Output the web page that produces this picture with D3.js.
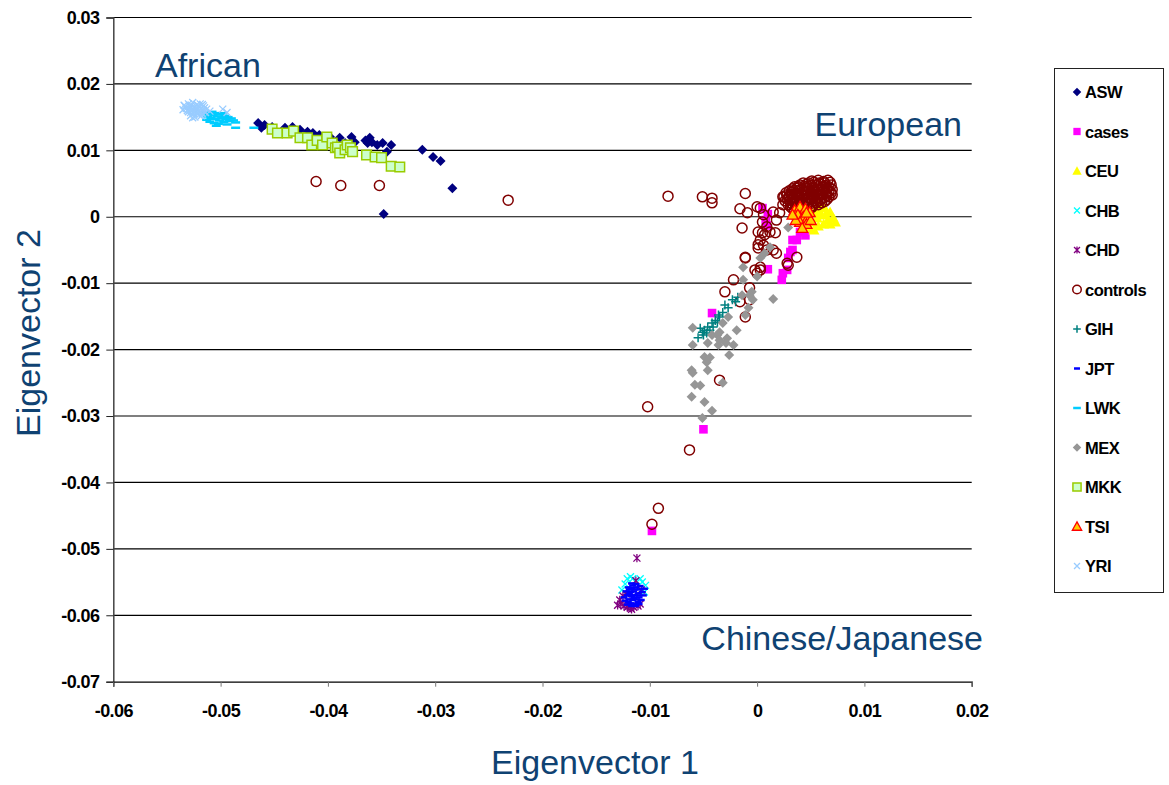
<!DOCTYPE html>
<html>
<head>
<meta charset="utf-8">
<script src="https://cdn.jsdelivr.net/npm/d3@7"></script>
<style>
  body { margin: 0; background: #fff; }
  svg { display: block; font-family: "Liberation Sans", Arial, sans-serif; }
</style>
</head>
<body>
<svg id="chart" width="1169" height="785"></svg>
<script>
// ---- axis ticks ----
const xTicks = [-0.06, -0.05, -0.04, -0.03, -0.02, -0.01, 0, 0.01, 0.02];
const xTickLabels = ["-0.06", "-0.05", "-0.04", "-0.03", "-0.02", "-0.01", "0", "0.01", "0.02"];
const yTicks = [0.03, 0.02, 0.01, 0, -0.01, -0.02, -0.03, -0.04, -0.05, -0.06, -0.07];
const yTickLabels = ["0.03", "0.02", "0.01", "0", "-0.01", "-0.02", "-0.03", "-0.04", "-0.05", "-0.06", "-0.07"];

// ---- series: [eigenvector 1, eigenvector 2] ----
const ASW = [[-0.0465,0.0141],[-0.0459,0.0138],[-0.0452,0.0135],[-0.0462,0.0134],[-0.0440,0.0134],[-0.0433,0.0135],
  [-0.0426,0.0131],[-0.0419,0.0128],[-0.0414,0.0126],[-0.0408,0.0123],[-0.0403,0.0115],[-0.0398,0.0120],[-0.0389,0.0119],
  [-0.0384,0.0111],[-0.0378,0.0120],[-0.0375,0.0112],[-0.0365,0.0115],[-0.0363,0.0111],[-0.0361,0.0119],[-0.0359,0.0112],
  [-0.0354,0.0108],[-0.0349,0.0111],[-0.0345,0.0098],[-0.0341,0.0108],[-0.0312,0.0101],[-0.0302,0.0090],[-0.0295,0.0084],
  [-0.0284,0.0043],[-0.0348,0.0004]];

const cases = [[0.0005,0.0013],[0.0010,0.0004],[0.0009,-0.0013],[0.0008,-0.0005],[0.0040,-0.0023],[0.0045,-0.0028],
  [0.0037,-0.0035],[0.0033,-0.0035],[0.0033,-0.0050],[0.0031,-0.0053],[0.0029,-0.0062],[0.0028,-0.0080],[0.0024,-0.0085],
  [0.0023,-0.0095],[0.0010,-0.0079],[-0.0042,-0.0145],[-0.0050,-0.0320],[-0.0098,-0.0473]];

const CEU = [[0.0054,0.0010],[0.0058,0.0018],[0.0063,0.0013],[0.0068,0.0007],[0.0071,-0.0002],[0.0066,-0.0005],
  [0.0060,0.0003],[0.0056,-0.0002],[0.0051,-0.0008],[0.0057,-0.0014],[0.0062,-0.0011],[0.0068,-0.0011],[0.0053,-0.0020],
  [0.0058,0.0007],[0.0064,0.0003],[0.0073,-0.0008],[0.0049,-0.0017]];

const CHB = [[-0.0121,-0.0545],[-0.0118,-0.0542],[-0.0113,-0.0548],[-0.0107,-0.0550],[-0.0104,-0.0555],[-0.0105,-0.0565],
  [-0.0126,-0.0562],[-0.0123,-0.0553],[-0.0116,-0.0545],[-0.0109,-0.0545]];

const CHD = [[-0.0127,-0.0583],[-0.0124,-0.0586],[-0.0121,-0.0588],[-0.0118,-0.0589],[-0.0115,-0.0588],[-0.0111,-0.0586],
  [-0.0128,-0.0577],[-0.0125,-0.0571],[-0.0113,-0.0548],[-0.0108,-0.0562],[-0.0112,-0.0514],[-0.0122,-0.0568],
  [-0.0120,-0.0586],[-0.0117,-0.0591],[-0.0130,-0.0585],[-0.0109,-0.0583]];

const controls = [
  // along the African axis
  [-0.0411,0.0053],[-0.0388,0.0047],[-0.0352,0.0047],[-0.0232,0.0025],
  // between the clusters
  [-0.0083,0.0031],[-0.0051,0.0030],[-0.0042,0.0028],[-0.0042,0.0021],[-0.0016,0.0012],[-0.0011,0.0035],
  [0.0003,0.0013],[0.0000,0.0015],[-0.0009,0.0006],[-0.0014,-0.0017],[0.0006,0.0003],[0.0005,-0.0008],[0.0009,-0.0015],
  [0.0015,0.0007],[0.0021,0.0006],[0.0018,-0.0005],[0.0012,-0.0023],[0.0001,-0.0023],[0.0003,-0.0035],[0.0006,-0.0043],
  [0.0009,-0.0050],[0.0001,-0.0047],[0.0015,-0.0050],[0.0018,-0.0055],[0.0007,-0.0027],[0.0024,0.0018],[0.0038,0.0045],
  [0.0024,0.0030],[0.0030,0.0030],[0.0037,-0.0061],[0.0003,-0.0076],[-0.0002,-0.0080],[0.0029,-0.0073],[-0.0011,-0.0061],
  [0.0005,-0.0024],[0.0001,-0.0042],[-0.0011,-0.0062],[0.0003,-0.0080],[0.0000,-0.0085],[-0.0022,-0.0095],
  [-0.0030,-0.0113],[-0.0007,-0.0107],[-0.0016,-0.0128],[-0.0007,-0.0125],[-0.0011,-0.0151],[-0.0035,-0.0246],
  [-0.0102,-0.0286],[0.0017,-0.0024],[0.0028,-0.0070],[-0.0063,-0.0351],[-0.0092,-0.0439],[-0.0098,-0.0463],
  // European cluster
  [0.0051,0.0054],[0.0057,0.0055],[0.0062,0.0053],[0.0066,0.0055],
  [0.0043,0.0051],[0.0048,0.0051],[0.0053,0.0052],[0.0058,0.0051],[0.0063,0.0051],[0.0068,0.0052],
  [0.0040,0.0048],[0.0046,0.0049],[0.0050,0.0047],[0.0055,0.0048],[0.0059,0.0049],[0.0064,0.0047],[0.0069,0.0048],
  [0.0035,0.0045],[0.0039,0.0045],[0.0044,0.0046],[0.0048,0.0045],[0.0053,0.0044],[0.0057,0.0045],[0.0062,0.0046],[0.0067,0.0045],
  [0.0033,0.0042],[0.0037,0.0043],[0.0042,0.0041],[0.0046,0.0042],[0.0051,0.0043],[0.0056,0.0041],[0.0060,0.0042],[0.0065,0.0043],[0.0070,0.0041],
  [0.0030,0.0039],[0.0034,0.0039],[0.0039,0.0040],[0.0044,0.0039],[0.0048,0.0038],[0.0053,0.0039],[0.0057,0.0040],[0.0062,0.0039],[0.0067,0.0038],
  [0.0027,0.0036],[0.0032,0.0037],[0.0036,0.0035],[0.0041,0.0036],[0.0046,0.0037],[0.0050,0.0035],[0.0055,0.0036],[0.0059,0.0037],[0.0064,0.0035],[0.0069,0.0036],
  [0.0028,0.0033],[0.0032,0.0033],[0.0037,0.0034],[0.0042,0.0033],[0.0046,0.0032],[0.0051,0.0033],[0.0056,0.0034],[0.0060,0.0033],[0.0065,0.0032],[0.0070,0.0033],
  [0.0025,0.0030],[0.0030,0.0031],[0.0034,0.0029],[0.0039,0.0030],[0.0044,0.0031],[0.0048,0.0029],[0.0053,0.0030],[0.0058,0.0031],[0.0062,0.0029],[0.0067,0.0030],
  [0.0028,0.0027],[0.0033,0.0027],[0.0037,0.0028],[0.0042,0.0027],[0.0047,0.0026],[0.0051,0.0027],[0.0056,0.0028],[0.0060,0.0027],[0.0065,0.0026],
  [0.0026,0.0024],[0.0031,0.0025],[0.0035,0.0023],[0.0040,0.0024],[0.0045,0.0025],[0.0049,0.0023],[0.0054,0.0024],[0.0058,0.0025],[0.0063,0.0023],
  [0.0031,0.0021],[0.0036,0.0021],[0.0040,0.0022],[0.0045,0.0021],[0.0050,0.0020],[0.0055,0.0021],[0.0060,0.0021],
  [0.0029,0.0018],[0.0033,0.0019],[0.0038,0.0017],[0.0043,0.0018],[0.0047,0.0019],[0.0052,0.0017],[0.0057,0.0018],
  [0.0031,0.0015],[0.0036,0.0015],[0.0041,0.0016],[0.0046,0.0015],[0.0051,0.0014],
  [0.0033,0.0012],[0.0038,0.0013],[0.0044,0.0011],[0.0049,0.0012],
  [0.0035,0.0009],[0.0040,0.0009],[0.0046,0.0008],
  [0.0037,0.0006],[0.0043,0.0007],[0.0040,0.0003]
];

const GIH = [[-0.0018,-0.0121],[-0.0023,-0.0125],[-0.0027,-0.0137],[-0.0032,-0.0144],[-0.0035,-0.0151],[-0.0039,-0.0156],
  [-0.0042,-0.0160],[-0.0046,-0.0166],[-0.0049,-0.0171],[-0.0051,-0.0174],[-0.0053,-0.0168],[-0.0041,-0.0166],
  [-0.0037,-0.0159],[-0.0047,-0.0175],[-0.0050,-0.0178],[-0.0044,-0.0171],[-0.0055,-0.0182],[-0.0030,-0.0133],
  [-0.0020,-0.0128],[-0.0036,-0.0148]];

const JPT = [[-0.0117,-0.0552],[-0.0113,-0.0553],[-0.0120,-0.0558],[-0.0117,-0.0559],[-0.0113,-0.0558],[-0.0109,-0.0561],
  [-0.0122,-0.0564],[-0.0118,-0.0565],[-0.0115,-0.0564],[-0.0111,-0.0567],[-0.0107,-0.0565],[-0.0121,-0.0570],
  [-0.0117,-0.0571],[-0.0114,-0.0570],[-0.0110,-0.0573],[-0.0119,-0.0576],[-0.0116,-0.0577],[-0.0112,-0.0576],
  [-0.0108,-0.0577],[-0.0118,-0.0582],[-0.0115,-0.0583],[-0.0111,-0.0580],[-0.0117,-0.0586],[-0.0113,-0.0586],
  [-0.0124,-0.0573],[-0.0120,-0.0580],[-0.0109,-0.0556],[-0.0106,-0.0570],[-0.0123,-0.0578],[-0.0119,-0.0561],
  [-0.0114,-0.0561],[-0.0110,-0.0583],[-0.0121,-0.0584],[-0.0115,-0.0574],[-0.0105,-0.0560],[-0.0112,-0.0570],
  [-0.0119,-0.0568],[-0.0116,-0.0555]];

const LWK = [[-0.0514,0.0157],[-0.0512,0.0151],[-0.0511,0.0155],[-0.0509,0.0149],[-0.0508,0.0158],[-0.0507,0.0153],
  [-0.0505,0.0147],[-0.0504,0.0156],[-0.0503,0.0151],[-0.0501,0.0145],[-0.0500,0.0154],[-0.0499,0.0149],[-0.0497,0.0143],
  [-0.0496,0.0152],[-0.0495,0.0147],[-0.0493,0.0150],[-0.0492,0.0144],[-0.0490,0.0148],[-0.0488,0.0145],[-0.0486,0.0142],
  [-0.0510,0.0143],[-0.0506,0.0141],[-0.0502,0.0140],[-0.0494,0.0139],[-0.0513,0.0146],[-0.0498,0.0156],
  [-0.0504,0.0137],[-0.0486,0.0134],[-0.0469,0.0134]];

const MEX = [[0.0029,-0.0016],[0.0012,-0.0046],[0.0007,-0.0055],[0.0003,-0.0062],[0.0000,-0.0090],[-0.0013,-0.0076],
  [-0.0013,-0.0095],[-0.0005,-0.0113],[-0.0007,-0.0118],[-0.0014,-0.0118],[0.0015,-0.0124],[-0.0004,-0.0125],
  [-0.0008,-0.0137],[-0.0011,-0.0148],[-0.0019,-0.0171],[-0.0027,-0.0151],[-0.0032,-0.0160],[-0.0035,-0.0174],
  [-0.0037,-0.0178],[-0.0028,-0.0183],[-0.0029,-0.0190],[-0.0022,-0.0193],[-0.0036,-0.0193],[-0.0046,-0.0190],
  [-0.0060,-0.0167],[-0.0060,-0.0193],[-0.0049,-0.0211],[-0.0044,-0.0212],[-0.0047,-0.0219],[-0.0046,-0.0231],
  [-0.0026,-0.0208],[-0.0061,-0.0231],[-0.0060,-0.0235],[-0.0032,-0.0250],[-0.0058,-0.0253],[-0.0053,-0.0254],
  [-0.0061,-0.0271],[-0.0049,-0.0279],[-0.0042,-0.0292],[-0.0051,-0.0303],[-0.0042,-0.0178],[-0.0035,-0.0186]];

const MKK = [[-0.0452,0.0132],[-0.0447,0.0126],[-0.0438,0.0126],[-0.0432,0.0129],[-0.0426,0.0119],[-0.0419,0.0119],
  [-0.0415,0.0108],[-0.0410,0.0115],[-0.0405,0.0108],[-0.0401,0.0120],[-0.0396,0.0111],[-0.0393,0.0104],[-0.0391,0.0105],
  [-0.0389,0.0096],[-0.0384,0.0101],[-0.0382,0.0108],[-0.0379,0.0104],[-0.0377,0.0098],[-0.0364,0.0093],[-0.0356,0.0090],
  [-0.0350,0.0089],[-0.0341,0.0076],[-0.0333,0.0075]];

const TSI = [[0.0035,0.0010],[0.0040,0.0015],[0.0045,0.0012],[0.0049,0.0007],[0.0038,0.0003],[0.0043,0.0000],
  [0.0047,-0.0002],[0.0040,-0.0008],[0.0046,-0.0011],[0.0036,-0.0005],[0.0050,-0.0005],[0.0042,-0.0017],
  [0.0046,0.0006],[0.0033,0.0003]];

const YRI = [[-0.0533,0.0166],[-0.0531,0.0160],[-0.0530,0.0170],[-0.0529,0.0163],[-0.0528,0.0157],[-0.0527,0.0168],
  [-0.0526,0.0172],[-0.0526,0.0161],[-0.0525,0.0155],[-0.0524,0.0165],[-0.0523,0.0159],[-0.0522,0.0169],[-0.0521,0.0162],
  [-0.0520,0.0153],[-0.0520,0.0166],[-0.0519,0.0158],[-0.0518,0.0163],[-0.0517,0.0155],[-0.0517,0.0169],[-0.0516,0.0160],
  [-0.0515,0.0164],[-0.0514,0.0157],[-0.0528,0.0152],[-0.0524,0.0150],[-0.0522,0.0156],[-0.0530,0.0158],[-0.0532,0.0163],
  [-0.0534,0.0168],[-0.0535,0.0161],[-0.0527,0.0164],[-0.0523,0.0162],[-0.0519,0.0170],[-0.0525,0.0158],[-0.0521,0.0167],
  [-0.0518,0.0152],[-0.0529,0.0167],[-0.0516,0.0167],[-0.0513,0.0162],[-0.0526,0.0149],[-0.0520,0.0160],
  [-0.0494,0.0157],[-0.0498,0.0162],[-0.0510,0.0159]];

const seriesNames = ["ASW", "cases", "CEU", "CHB", "CHD", "controls", "GIH", "JPT", "LWK", "MEX", "MKK", "TSI", "YRI"];
const seriesData = [ASW, cases, CEU, CHB, CHD, controls, GIH, JPT, LWK, MEX, MKK, TSI, YRI];

// marker look for each series (same order as seriesNames)
const markerStyles = [
  { shape: "diamond",  s: 5,   fill: "#000080", stroke: "none" },
  { shape: "square",   s: 4.3, fill: "#FF00FF", stroke: "none" },
  { shape: "triangle", s: 5.5, fill: "#FFFF00", stroke: "none" },
  { shape: "x",        s: 3.5, fill: "none", stroke: "#00FFFF", sw: 1.3 },
  { shape: "asterisk", s: 3.5, fill: "none", stroke: "#800080", sw: 1.3 },
  { shape: "circle",   s: 5,   fill: "none", stroke: "#800000", sw: 1.5 },
  { shape: "plus",     s: 4.5, fill: "none", stroke: "#008080", sw: 1.5 },
  { shape: "dash",     s: 3.5, fill: "none", stroke: "#0000FF", sw: 2.5 },
  { shape: "dash",     s: 4.5, fill: "none", stroke: "#00CCFF", sw: 2.5 },
  { shape: "diamond",  s: 5,   fill: "#969696", stroke: "none" },
  { shape: "square",   s: 4.8, fill: "#CCFFCC", stroke: "#99CC00", sw: 1.5 },
  { shape: "triangle", s: 5.5, fill: "#FFCC00", stroke: "#FF0000", sw: 1.3 },
  { shape: "x",        s: 3.5, fill: "none", stroke: "#99CCFF", sw: 1.3 }
];

function markerPath(shape, s) {
  switch (shape) {
    case "diamond":  return `M0,${-s}L${s},0L0,${s}L${-s},0Z`;
    case "square":   return `M${-s},${-s}h${2*s}v${2*s}h${-2*s}Z`;
    case "triangle": return `M0,${-s}L${s},${s*0.8}L${-s},${s*0.8}Z`;
    case "x":        return `M${-s},${-s}L${s},${s}M${s},${-s}L${-s},${s}`;
    case "asterisk": return `M${-s},${-s}L${s},${s}M${s},${-s}L${-s},${s}M0,${-s*1.2}V${s*1.2}`;
    case "plus":     return `M${-s},0H${s}M0,${-s}V${s}`;
    case "dash":     return `M${-s},0H${s}`;
    case "circle":   return `M${s},0A${s},${s} 0 1,1 ${-s},0A${s},${s} 0 1,1 ${s},0Z`;
  }
}

const svg = d3.select("#chart");
const titleColor = "#0F4272";

const x = d3.scaleLinear().domain([-0.06, 0.02]).range([113.3, 971.7]);
const y = d3.scaleLinear().domain([-0.07, 0.03]).range([681.7, 17.5]);

// horizontal gridlines
svg.append("g")
  .selectAll("line")
  .data(yTicks.filter(d => d !== -0.07))
  .join("line")
  .attr("x1", x(-0.06)).attr("x2", x(0.02))
  .attr("y1", d => y(d)).attr("y2", d => y(d))
  .attr("stroke", "#000").attr("stroke-width", 1.2);

// y axis
const yAxis = svg.append("g")
  .attr("transform", `translate(${x(-0.06)},0)`)
  .call(d3.axisLeft(y).tickValues(yTicks).tickFormat((d, i) => yTickLabels[i]).tickSize(7).tickPadding(7));
yAxis.select(".domain").attr("stroke", "#444").attr("stroke-width", 1.5);
yAxis.selectAll(".tick line").attr("stroke", "#222");
yAxis.selectAll(".tick text")
  .attr("font-family", "'Liberation Sans', Arial, sans-serif")
  .attr("font-size", 18).attr("font-weight", "bold").attr("letter-spacing", "-0.6px").attr("fill", "#000");

// x axis
const xAxis = svg.append("g")
  .attr("transform", `translate(0,${y(-0.07)})`)
  .call(d3.axisBottom(x).tickValues(xTicks).tickFormat((d, i) => xTickLabels[i]).tickSize(5).tickPadding(18));
xAxis.select(".domain").attr("stroke", "#000").attr("stroke-width", 1.3);
xAxis.selectAll(".tick line").attr("stroke", "#777");
xAxis.selectAll(".tick text")
  .attr("font-family", "'Liberation Sans', Arial, sans-serif")
  .attr("font-size", 18).attr("font-weight", "bold").attr("letter-spacing", "-0.6px").attr("fill", "#000");

// points, drawn in series order so later series sit on top
seriesData.forEach((pts, i) => {
  const st = markerStyles[i];
  svg.append("g").attr("class", "series-" + seriesNames[i])
    .selectAll("path")
    .data(pts)
    .join("path")
    .attr("transform", d => `translate(${x(d[0])},${y(d[1])})`)
    .attr("d", markerPath(st.shape, st.s))
    .attr("fill", st.fill)
    .attr("stroke", st.stroke)
    .attr("stroke-width", st.sw || 0);
});

// region labels
const regionLabels = [
  { text: "African", x: 155, y: 77, anchor: "start" },
  { text: "European", x: 962, y: 136, anchor: "end" },
  { text: "Chinese/Japanese", x: 983, y: 650, anchor: "end" }
];
svg.append("g").selectAll("text")
  .data(regionLabels)
  .join("text")
  .attr("x", d => d.x).attr("y", d => d.y)
  .attr("text-anchor", d => d.anchor)
  .attr("font-family", "'Liberation Sans', Arial, sans-serif")
  .attr("font-size", 34).attr("fill", titleColor)
  .text(d => d.text);

// axis titles
svg.append("text")
  .attr("x", 595).attr("y", 774)
  .attr("text-anchor", "middle")
  .attr("font-size", 34).attr("fill", titleColor)
  .text("Eigenvector 1");
svg.append("text")
  .attr("transform", "translate(40,333) rotate(-90)")
  .attr("text-anchor", "middle")
  .attr("font-size", 34).attr("fill", titleColor)
  .text("Eigenvector 2");

// legend
const legend = svg.append("g");
legend.append("rect")
  .attr("x", 1054.5).attr("y", 68.5).attr("width", 109).attr("height", 524)
  .attr("fill", "#fff").attr("stroke", "#222").attr("stroke-width", 1);
const legendItems = legend.selectAll("g.item")
  .data(seriesNames)
  .join("g")
  .attr("class", "item")
  .attr("transform", (d, i) => `translate(1077,${92 + i * 39.5})`);
legendItems.append("path")
  .attr("d", (d, i) => markerPath(markerStyles[i].shape, markerStyles[i].s * 0.85))
  .attr("fill", (d, i) => markerStyles[i].fill)
  .attr("stroke", (d, i) => markerStyles[i].stroke)
  .attr("stroke-width", (d, i) => markerStyles[i].sw || 0);
legendItems.append("text")
  .attr("x", 8).attr("y", 6)
  .attr("font-size", 16.5).attr("font-weight", "bold").attr("letter-spacing", "-0.5px")
  .attr("fill", "#000")
  .text(d => d);
</script>
</body>
</html>
